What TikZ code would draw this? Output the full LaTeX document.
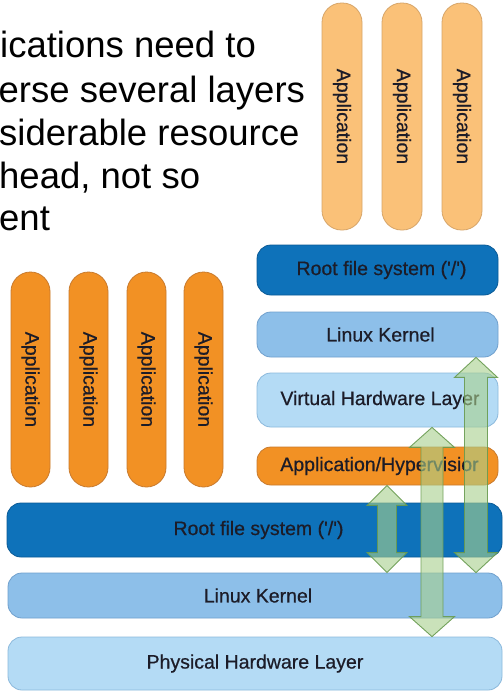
\documentclass[tikz,border=0pt]{standalone}
\usepackage{fontspec}
\setmainfont{Liberation Sans}
\newfontfamily\labelfont[FakeBold=0.6]{Liberation Sans}
\usetikzlibrary{calc}
\definecolor{rootblue}{RGB}{14,114,186}
\definecolor{rootedge}{RGB}{10,90,150}
\definecolor{kernblue}{RGB}{141,191,233}
\definecolor{kernedge}{RGB}{112,160,205}
\definecolor{hwblue}{RGB}{180,219,245}
\definecolor{hwedge}{RGB}{140,185,220}
\definecolor{orgdark}{RGB}{242,145,36}
\definecolor{orgdarkedge}{RGB}{200,122,45}
\definecolor{orglight}{RGB}{250,193,120}
\definecolor{orglightedge}{RGB}{215,165,105}
\definecolor{arrfill}{RGB}{168,208,140}
\definecolor{arredge}{RGB}{105,155,80}
\definecolor{txt}{RGB}{28,28,40}
\newcommand{\dblarrow}[4]{%
  \draw[arrowshape] (#1) -- ($(#1)+(#3,20)$) -- ($(#1)+(#4,20)$)
    -- ($(#2)+(#4,-20)$) -- ($(#2)+(#3,-20)$) -- (#2)
    -- ($(#2)+(-#3,-20)$) -- ($(#2)+(-#4,-20)$)
    -- ($(#1)+(-#4,20)$) -- ($(#1)+(-#3,20)$) -- cycle;}
\begin{document}
\begin{tikzpicture}[x=1pt,y=-1pt,
  layerbox/.style n args={2}{draw=#2, fill=#1, rounded corners=14pt, line width=0.8pt,
    inner sep=0pt, text=txt, font=\labelfont\fontsize{19.5}{23}\selectfont},
  pill/.style n args={2}{draw=#2, fill=#1, rounded corners=19.5pt, line width=0.8pt,
    inner sep=0pt, text=txt, rotate=-90, font=\labelfont\fontsize{19.5}{23}\selectfont},
  titletext/.style={anchor=base west, inner sep=0pt, text=black,
    font=\fontsize{36.5}{44}\selectfont},
  arrowshape/.style={draw=arredge, fill=arrfill, fill opacity=0.6, draw opacity=0.9,
    line width=0.9pt, line join=miter}
]
\useasboundingbox (0,0) rectangle (503,691);
\fill[white] (0,0) rectangle (503,691);

% title fragments
\node[titletext] (t1) at (0,57) {ications need to};
\node[titletext] (t2) at (-1.5,102) {erse several layers};
\node[titletext] (t3) at (-1,145) {siderable resource};
\node[titletext] (t4) at (-1,188) {head, not so};
\node[titletext] (t5) at (-1,230) {ent};

% top (guest) applications
\node[pill={orglight}{orglightedge}, minimum width=227pt, minimum height=40pt] (ga1) at (342,116.5) {Application};
\node[pill={orglight}{orglightedge}, minimum width=227pt, minimum height=40pt] (ga2) at (402,116.5) {Application};
\node[pill={orglight}{orglightedge}, minimum width=227pt, minimum height=40pt] (ga3) at (462,116.5) {Application};

% guest stack
\node[layerbox={rootblue}{rootedge}, minimum width=241pt, minimum height=50pt] (troot) at (377.5,270) {\hspace{8pt}Root file system ('/')};
\node[layerbox={kernblue}{kernedge}, minimum width=241pt, minimum height=45pt] (tkern) at (377.5,334.5) {\hspace{6pt}Linux Kernel};
\node[layerbox={hwblue}{hwedge}, minimum width=241pt, minimum height=54pt] (vhw) at (377.5,400) {\hspace{5pt}Virtual Hardware Layer};
\node[layerbox={orgdark}{orgdarkedge}, minimum width=241pt, minimum height=38pt] (hyp) at (377.5,466) {\hspace{4pt}Application/Hypervisior};

% host applications
\node[pill={orgdark}{orgdarkedge}, minimum width=215pt, minimum height=39pt] (ha1) at (30.5,379.5) {Application};
\node[pill={orgdark}{orgdarkedge}, minimum width=215pt, minimum height=39pt] (ha2) at (88.5,379.5) {Application};
\node[pill={orgdark}{orgdarkedge}, minimum width=215pt, minimum height=39pt] (ha3) at (146.5,379.5) {Application};
\node[pill={orgdark}{orgdarkedge}, minimum width=215pt, minimum height=39pt] (ha4) at (203.5,379.5) {Application};

% host stack
\node[layerbox={rootblue}{rootedge}, minimum width=495pt, minimum height=54pt] (broot) at (254.5,530) {\hspace{8pt}Root file system ('/')};
\node[layerbox={kernblue}{kernedge}, minimum width=494pt, minimum height=45pt] (bkern) at (255,595.5) {\hspace{6pt}Linux Kernel};
\node[layerbox={hwblue}{hwedge}, minimum width=494pt, minimum height=53pt] (phys) at (255,663.5) {Physical Hardware Layer};

% arrow positions
\path (387,0) coordinate (ax) (432,0) coordinate (bx) (476,0) coordinate (cx);
\coordinate (aT) at (ax |- hyp.south);
\coordinate (aB) at (ax |- bkern.north);
\coordinate (bT) at (bx |- vhw.south);
\coordinate (bB) at (bx |- phys.north);
\coordinate (cT) at (cx |- tkern.south);
\coordinate (cB) at (cx |- bkern.north);

\dblarrow{aT}{aB}{20}{9.5}
\dblarrow{bT}{bB}{22.5}{11}
\dblarrow{cT}{cB}{21.5}{11.5}
\end{tikzpicture}
\end{document}
